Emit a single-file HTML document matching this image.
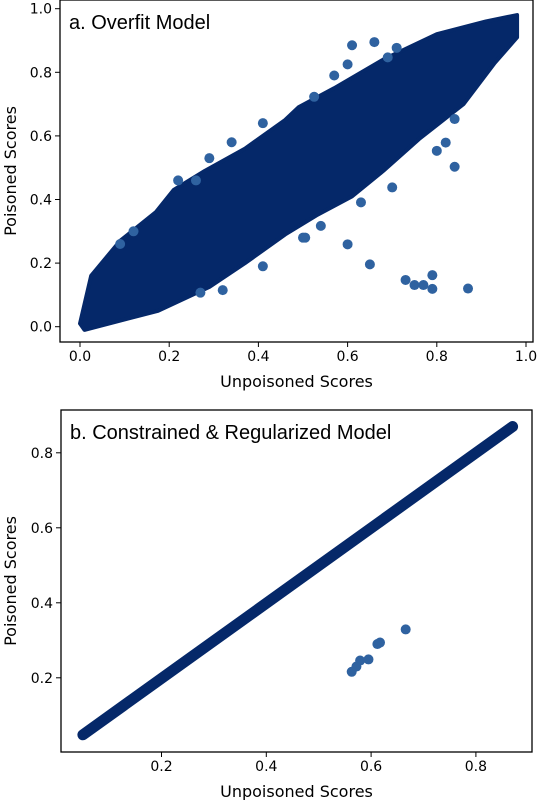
<!DOCTYPE html>
<html><head><meta charset="utf-8"><style>
body{margin:0;background:#fff;}
svg text{font-family:"DejaVu Sans","Liberation Sans",sans-serif;fill:#000;}
</style></head><body>
<svg id="c" width="539" height="800" xmlns="http://www.w3.org/2000/svg"></svg>
<script>
// Panel a data (cloud envelope + outliers)
const aUpperX=[0,0.025,0.09,0.17,0.21,0.28,0.37,0.46,0.49,0.57,0.68,0.80,0.91,0.98,0.98];
const aUpperY=[0.01,0.16,0.27,0.36,0.43,0.49,0.56,0.65,0.69,0.75,0.84,0.92,0.96,0.98,0.91];
const aLowerX=[0.93,0.86,0.76,0.68,0.61,0.53,0.46,0.37,0.29,0.175,0.01];
const aLowerY=[0.83,0.70,0.59,0.49,0.41,0.35,0.29,0.20,0.125,0.05,-0.01];
const aOutX=[0.61,0.66,0.71,0.60,0.69,0.525,0.57,0.84,0.84,0.82,0.80,0.70,0.63,0.54,0.505,0.60,0.65,0.73,0.75,0.77,0.79,0.79,0.87,0.34,0.22,0.26,0.32,0.27,0.41,0.50,0.12,0.09,0.41,0.29];
const aOutY=[0.885,0.895,0.877,0.825,0.847,0.723,0.79,0.503,0.653,0.579,0.553,0.438,0.391,0.317,0.28,0.259,0.196,0.147,0.131,0.131,0.119,0.162,0.12,0.58,0.46,0.46,0.115,0.107,0.19,0.28,0.30,0.26,0.64,0.53];
const aTicks=[0,0.2,0.4,0.6,0.8,1.0];
const aTickLabels=["0.0","0.2","0.4","0.6","0.8","1.0"];
// Panel b data
const bLineX=[0.05,0.87];
const bLineY=[0.048,0.87];
const bOutX=[0.563,0.572,0.579,0.595,0.612,0.617,0.666];
const bOutY=[0.216,0.23,0.246,0.249,0.29,0.294,0.329];
const bTicks=[0.2,0.4,0.6,0.8];
const bTickLabels=["0.2","0.4","0.6","0.8"];

const svg=document.getElementById('c');
const NS="http://www.w3.org/2000/svg";
function mk(tag,attrs,parent){const e=document.createElementNS(NS,tag);for(const k in attrs)e.setAttribute(k,attrs[k]);(parent||svg).appendChild(e);return e;}
const dark="#052869", light="#2f62a0";

function panel(p){
  const g=mk('g',{});
  
  
  const X=v=>p.x0+(v-p.xv0)*(p.x1-p.x0)/(p.xv1-p.xv0);
  const Y=v=>p.y0+(v-p.yv0)*(p.y1-p.y0)/(p.yv1-p.yv0);
  p.draw(g,X,Y);
  const fr=mk('rect',{x:p.L,y:p.T,width:p.R-p.L,height:p.B-p.T,fill:'none',stroke:'#000','stroke-width':1.3},g);
  
  
  p.ticks.forEach((t,i)=>{
    mk('line',{x1:X(t),x2:X(t),y1:p.B,y2:p.B+5,stroke:'#000'},g);
    const tx=mk('text',{x:X(t),y:p.B+19,'font-size':14,'text-anchor':'middle'},g);tx.textContent=p.labels[i];
    
    
    mk('line',{x1:p.L-5,x2:p.L,y1:Y(t),y2:Y(t),stroke:'#000'},g);
    const ty=mk('text',{x:p.L-8,y:Y(t)+5,'font-size':14,'text-anchor':'end'},g);ty.textContent=p.labels[i];
    
    
  });
  const xl=mk('text',{x:(p.L+p.R)/2,y:p.B+45,'font-size':16,'text-anchor':'middle'},g);xl.textContent="Unpoisoned Scores";
  
  
  const yl=mk('text',{x:0,y:0,'font-size':16,'text-anchor':'middle',transform:`translate(16,${(p.T+p.B)/2}) rotate(-90)`},g);yl.textContent="Poisoned Scores";
  
  
  const ti=mk('text',{x:p.L+9,y:p.T+29,'font-size':20,style:'font-family:"Liberation Sans",sans-serif'},g);ti.textContent=p.title;
  
  
}

panel({name:'panel-a-overfit',L:60,R:533,T:0,B:342,x0:80,x1:526,xv0:0,xv1:1,y0:326.7,y1:8.7,yv0:0,yv1:1,
 ticks:aTicks,labels:aTickLabels,title:"a. Overfit Model",
 draw:(g,X,Y)=>{
  let pts=aUpperX.map((x,i)=>X(x)+','+Y(aUpperY[i]));
  aLowerX.forEach((x,i)=>pts.push(X(x)+','+Y(aLowerY[i])));
  const poly=mk('polygon',{points:pts.join(' '),fill:dark,stroke:dark,'stroke-width':4,'stroke-linejoin':'round'},g);
  
  
  aOutX.forEach((x,i)=>{const c=mk('circle',{cx:X(x),cy:Y(aOutY[i]),r:5,fill:light},g);
    
    });
 }});

panel({name:'panel-b-regularized',L:61,R:532,T:410,B:752,x0:56.7,x1:475.9,xv0:0,xv1:0.8,y0:752.8,y1:452.8,yv0:0,yv1:0.8,
 ticks:bTicks,labels:bTickLabels,title:"b. Constrained & Regularized Model",
 draw:(g,X,Y)=>{
  const l=mk('line',{x1:X(bLineX[0]),y1:Y(bLineY[0]),x2:X(bLineX[1]),y2:Y(bLineY[1]),stroke:dark,'stroke-width':11,'stroke-linecap':'round'},g);
  
  
  bOutX.forEach((x,i)=>{const c=mk('circle',{cx:X(x),cy:Y(bOutY[i]),r:5,fill:light},g);
    
    });
 }});
</script>
</body></html>
